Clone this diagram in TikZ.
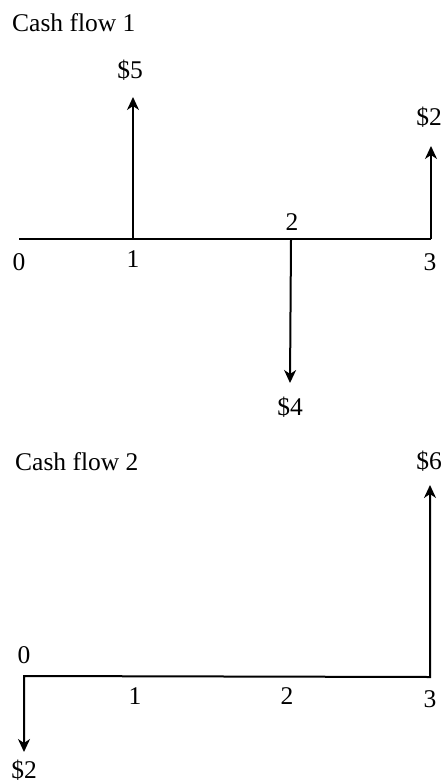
\documentclass[tikz,border=0pt]{standalone}
\usepackage{fontspec}
\setmainfont{Liberation Serif}
\usetikzlibrary{arrows.meta}
\begin{document}
\begin{tikzpicture}[x=1pt,y=-1pt,
  lbl/.style={inner sep=0pt,anchor=base,font=\fontsize{25.5}{30}\selectfont},
  ttl/.style={inner sep=0pt,anchor=base west,font=\fontsize{25.5}{30}\selectfont},
  axisline/.style={line width=2pt},
  flow/.style={line width=2pt,-{Stealth[length=13pt,width=12pt,inset=4pt]}},
  flow2/.style={line width=2pt,{Stealth[length=13pt,width=12pt,inset=4pt]}-{Stealth[length=13pt,width=12pt,inset=4pt]}}]
\useasboundingbox (0,0) rectangle (444,784);
% ---- Cash flow 1
\node[ttl] (title1) at (12,32) {Cash flow 1};
\coordinate (a0) at (19,239);
\coordinate (a1) at (133,239);
\coordinate (a2) at (291,240);
\coordinate (a3) at (431,239);
\coordinate (tip1) at (133,97);
\coordinate (tip2) at (290,383);
\coordinate (tip3) at (431,146);
\draw[axisline] (a0) -- (a3);
\draw[flow] (a1) -- (tip1);
\draw[flow] (a2) -- (tip2);
\draw[flow] (a3) -- (tip3);
\node[lbl] (v5) at (130,78) {\$5};
\node[lbl] (v2a) at (429,125) {\$2};
\node[lbl] (v4) at (290,415) {\$4};
\node[lbl] (n0a) at (19,270) {0};
\node[lbl] (n1a) at (133,267) {1};
\node[lbl] (n2a) at (292,230) {2};
\node[lbl] (n3a) at (430,270) {3};
% ---- Cash flow 2
\node[ttl] (title2) at (15,470) {Cash flow 2};
\coordinate (b0) at (24,676);
\coordinate (b3) at (430,677);
\coordinate (tipb0) at (24,752);
\coordinate (tipb3) at (430,485);
\draw[flow2,line join=miter] (tipb0) -- (b0) -- (b3) -- (tipb3);
\node[lbl] (v6) at (429,469) {\$6};
\node[lbl] (v2b) at (24,778) {\$2};
\node[lbl] (n0b) at (24,663) {0};
\node[lbl] (n1b) at (135,704) {1};
\node[lbl] (n2b) at (287,704) {2};
\node[lbl] (n3b) at (430,707) {3};
\end{tikzpicture}
\end{document}
